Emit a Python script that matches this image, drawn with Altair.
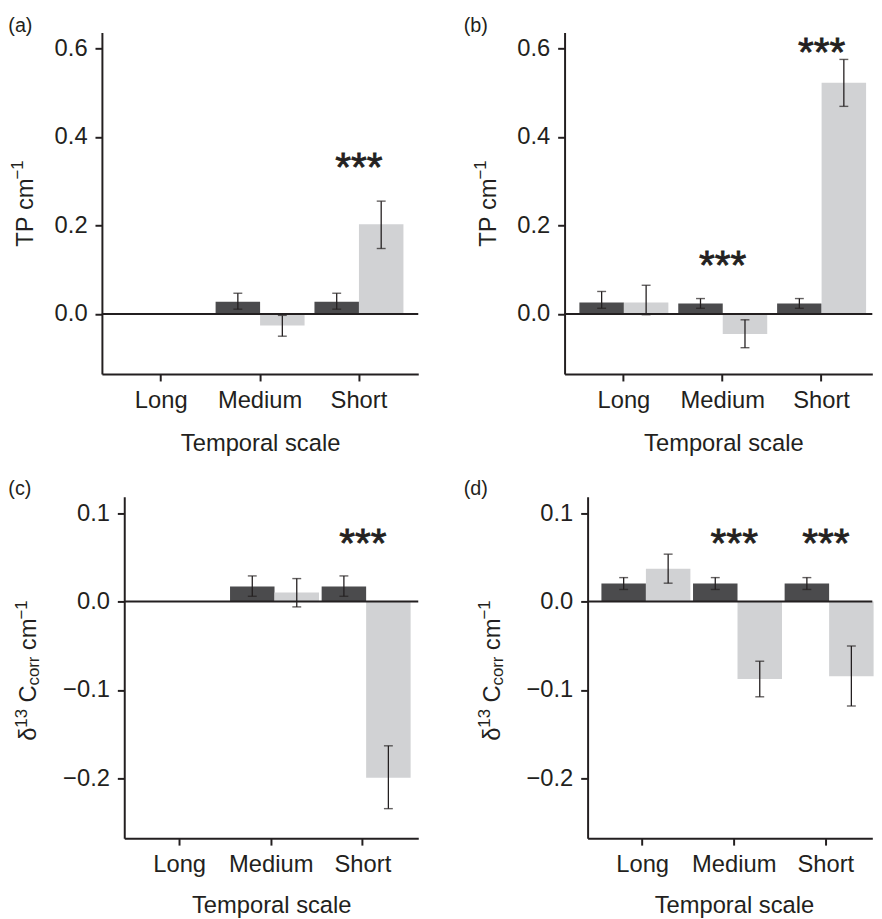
import altair as alt
import pandas as pd

# ---------------- data ----------------
categories = ["Long", "Medium", "Short"]
groups = ["g1", "g2"]

# panel (a)  TP cm-1
a_g1_mean = [None, 0.028, 0.028]
a_g1_lo = [None, 0.011, 0.011]
a_g1_hi = [None, 0.047, 0.047]
a_g2_mean = [None, -0.026, 0.203]
a_g2_lo = [None, -0.050, 0.148]
a_g2_hi = [None, -0.003, 0.255]
a_star_cat = ["Short"]
a_star_y = [0.338]

# panel (b)  TP cm-1
b_g1_mean = [0.026, 0.024, 0.024]
b_g1_lo = [0.013, 0.013, 0.013]
b_g1_hi = [0.051, 0.035, 0.035]
b_g2_mean = [0.026, -0.045, 0.5225]
b_g2_lo = [-0.0015, -0.076, 0.469]
b_g2_hi = [0.065, -0.013, 0.575]
b_star_cat = ["Medium", "Short"]
b_star_y = [0.118, 0.5985]

# panel (c)  d13C corr cm-1
c_g1_mean = [None, 0.017, 0.017]
c_g1_lo = [None, 0.006, 0.006]
c_g1_hi = [None, 0.029, 0.029]
c_g2_mean = [None, 0.0104, -0.199]
c_g2_lo = [None, -0.006, -0.234]
c_g2_hi = [None, 0.026, -0.163]
c_star_cat = ["Short"]
c_star_y = [0.0695]

# panel (d)  d13C corr cm-1
d_g1_mean = [0.0204, 0.0204, 0.0204]
d_g1_lo = [0.0137, 0.0137, 0.0137]
d_g1_hi = [0.0271, 0.0271, 0.0271]
d_g2_mean = [0.0372, -0.0875, -0.0845]
d_g2_lo = [0.0208, -0.1076, -0.118]
d_g2_hi = [0.0536, -0.0674, -0.0502]
d_star_cat = ["Medium", "Short"]
d_star_y = [0.0695, 0.0695]

tp_ticks = [0.0, 0.2, 0.4, 0.6]
dc_ticks = [-0.2, -0.1, 0.0, 0.1]

# ---------------- style ----------------
FONT = "Liberation Sans"
INK = "#231f20"
DARK = "#4b4b4d"
LIGHT = "#d1d2d4"
MAIN_FS = 24
SMALL_FS = 17

W = {"T": .611, "P": .667, " ": .278, "c": .5, "m": .833, "\u2212": .584,
     "1": .556, "3": .556, "\u03b4": .556, "C": .722, "o": .556, "r": .333}


def tw(s, fs):
    return sum(W.get(ch, .556) for ch in s) * fs


# (text, font size, raise in px, extra gap before in px)
TP_TITLE = [("TP", MAIN_FS, 0, 0), ("cm", MAIN_FS, 0, 6.4), ("\u22121", SMALL_FS, 10, -1)]
DC_TITLE = [("\u03b4", MAIN_FS, 0, 0), ("13", SMALL_FS, 10, 0), ("C", MAIN_FS, 0, 6.4),
            ("corr", SMALL_FS, -3, 0), ("cm", MAIN_FS, 0, 6.4), ("\u22121", SMALL_FS, 10, -1)]

ONE = pd.DataFrame({"k": [0]})


def build(mean, lo, hi):
    rows = []
    for gi, g in enumerate(groups):
        for ci, cat in enumerate(categories):
            if mean[gi][ci] is None:
                continue
            rows.append({"scale": cat, "group": g, "mean": mean[gi][ci],
                         "lo": lo[gi][ci], "hi": hi[gi][ci]})
    return pd.DataFrame(rows)


def panel(df, stars, letter, width, height, xrange, po, align, ydom, yvals,
          yoff, segs, bx, ycenter, lab_x, lab_y, tpad, title_x):
    xs_kw = dict(domain=categories, paddingInner=0.1, paddingOuter=po,
                 align=align, round=False)
    if xrange is not None:
        xs_kw["range"] = xrange
    xscale = alt.Scale(**xs_kw)
    yscale = alt.Scale(domain=ydom, nice=False, zero=False)
    xo = alt.XOffset("group:N", scale=alt.Scale(domain=groups))

    ax_kw = dict(title="Temporal scale", labelAngle=0, titlePadding=tpad)
    if title_x is not None:
        ax_kw["titleX"] = title_x
    x_main = alt.X("scale:N", scale=xscale, axis=alt.Axis(**ax_kw))

    def xn():
        return alt.X("scale:N", scale=xscale)

    def yn(f):
        return alt.Y(f, scale=yscale)

    bars = alt.Chart(df).mark_bar().encode(
        x=x_main, xOffset=xo,
        y=alt.Y("mean:Q", scale=yscale,
                axis=alt.Axis(values=yvals, format=".1f", title=None, offset=yoff)),
        color=alt.Color("group:N", scale=alt.Scale(domain=groups, range=[DARK, LIGHT]),
                        legend=None),
    )
    err = alt.Chart(df).mark_rule(color=INK, strokeWidth=1.3).encode(
        x=xn(), xOffset=xo, y=yn("lo:Q"), y2="hi:Q")
    cap_lo = alt.Chart(df).mark_tick(color=INK, size=9, thickness=1.4).encode(
        x=xn(), xOffset=xo, y=yn("lo:Q"))
    cap_hi = alt.Chart(df).mark_tick(color=INK, size=9, thickness=1.4).encode(
        x=xn(), xOffset=xo, y=yn("hi:Q"))
    x0 = xrange[0] if xrange is not None else 0
    x1 = xrange[1] if xrange is not None else width
    zero = alt.Chart(ONE).mark_rule(color=INK, strokeWidth=2).encode(
        y=alt.YDatum(0, scale=yscale),
        x=alt.value(x0), x2=alt.value(x1))
    star = alt.Chart(stars).mark_text(text="***", font=FONT, fontSize=41, color=INK,
                                      stroke=INK, strokeWidth=0.8,
                                      baseline="alphabetic", dy=17).encode(
        x=xn(), y=yn("y:Q"))

    layers = [bars, err, cap_lo, cap_hi, zero, star]

    total = sum(tw(s, fs) + gap for s, fs, _, gap in segs)
    ypos = ycenter + total / 2
    for s, fs, raise_, gap in segs:
        ypos -= gap
        layers.append(alt.Chart(ONE).mark_text(
            text=s, font=FONT, fontSize=fs, color=INK, angle=270, align="left",
            baseline="alphabetic").encode(x=alt.value(bx - raise_), y=alt.value(ypos)))
        ypos -= tw(s, fs)

    layers.append(alt.Chart(ONE).mark_text(
        text=letter, font=FONT, fontSize=20, color=INK, align="left",
        baseline="top").encode(x=alt.value(lab_x), y=alt.value(lab_y)))

    return alt.layer(*layers).properties(width=width, height=height)


H = 345.5
TP_DOM = [-0.1355, 0.6358]
DC_DOM = [-0.2674, 0.1186]

pa = panel(build([a_g1_mean, a_g2_mean], [a_g1_lo, a_g2_lo], [a_g1_hi, a_g2_hi]),
           pd.DataFrame({"scale": a_star_cat, "y": a_star_y}), "(a)",
           320, H, None, 0.15, 0.5, TP_DOM, tp_ticks, 0,
           TP_TITLE, -69.4, 173, -94.7, -16.5, 19, None)
pb = panel(build([b_g1_mean, b_g2_mean], [b_g1_lo, b_g2_lo], [b_g1_hi, b_g2_hi]),
           pd.DataFrame({"scale": b_star_cat, "y": b_star_y}), "(b)",
           311.3, H, None, 0.1065, 0.704, TP_DOM, tp_ticks, 0,
           TP_TITLE, -69.0, 173, -102, -16.5, 19, 160.6)
pc = panel(build([c_g1_mean, c_g2_mean], [c_g1_lo, c_g2_lo], [c_g1_hi, c_g2_hi]),
           pd.DataFrame({"scale": c_star_cat, "y": c_star_y}), "(c)",
           320, H, [22.6, 320], 0.1546, 0.5, DC_DOM, dc_ticks, -22.6,
           DC_TITLE, -66.2, 176, -94.7, -17.5, 17, None)
pd_ = panel(build([d_g1_mean, d_g2_mean], [d_g1_lo, d_g2_lo], [d_g1_hi, d_g2_hi]),
            pd.DataFrame({"scale": d_star_cat, "y": d_star_y}), "(d)",
            311.3, H, [23.3, 311.3], 0.104, 0.725, DC_DOM, dc_ticks, -23.3,
            DC_TITLE, -65.7, 176, -102, -17.5, 17, 171.3)

chart = alt.concat(
    pa, pb, pc, pd_, columns=2,
    spacing={"row": 123.5, "column": 148}, bounds="flush",
).configure_view(strokeWidth=0).configure_axis(
    labelFont=FONT, labelFontSize=MAIN_FS, labelColor=INK,
    titleFont=FONT, titleFontSize=MAIN_FS, titleFontWeight="normal", titleColor=INK,
    tickColor=INK, domainColor=INK, tickWidth=2, domainWidth=2, tickSize=7,
    labelPadding=8, grid=False,
).properties(padding={"left": 0, "top": 2.5, "right": 0, "bottom": 0})

chart.save("out.html", embed_options={"renderer": "svg", "actions": False})
